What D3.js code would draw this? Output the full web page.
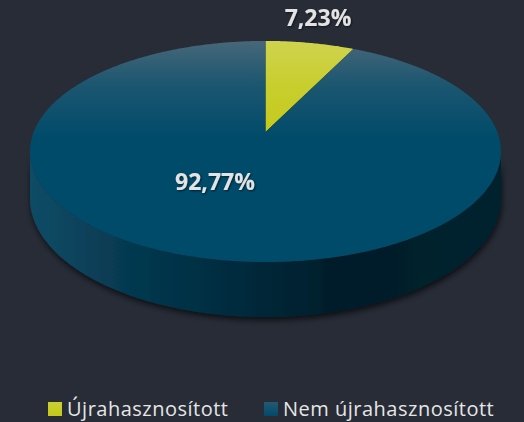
<!DOCTYPE html>
<html>
<head>
<meta charset="utf-8">
<script src="https://cdn.jsdelivr.net/npm/d3@7"></script>
<style>
  html, body { margin: 0; padding: 0; background: #272c37; }
  svg { display: block; }
</style>
</head>
<body>
<svg id="chart" width="524" height="422"></svg>
<script>
// data
var categories = ["Újrahasznosított", "Nem újrahasznosított"];
var values = [7.23, 92.77];
var labels = ["7,23%", "92,77%"];
var colors = ["#c4ca18", "#004b6a"];
var topColors = ["#cfd34e", "#476779"];

var svg = d3.select("#chart");

// perspective disc: unit circle (u, v) -> screen, h = 0 top, 1 bottom
var cx = 265.5, cy = 132, A = 231.8, B = 107.1, k = -0.176, D = 45.4;
function proj(u, v, h) {
  var w = 1 + k * v;
  return [cx + A * u / w, cy + (B * v + D * h) / w];
}
function at(a, h) { return proj(Math.sin(a), -Math.cos(a), h); }

var pie = d3.pie().sort(null).value(function (d) { return d; });
var arcs = pie(values);

var defs = svg.append("defs");

// top gradients
arcs.forEach(function (d, i) {
  var g = defs.append("linearGradient").attr("id", "top" + i)
    .attr("gradientUnits", "userSpaceOnUse")
    .attr("x1", 0).attr("x2", 0).attr("y1", 41).attr("y2", 138);
  g.append("stop").attr("offset", 0).attr("stop-color", topColors[i]);
  g.append("stop").attr("offset", 0.45).attr("stop-color", d3.interpolateRgb(topColors[i], colors[i])(0.6));
  g.append("stop").attr("offset", 1).attr("stop-color", colors[i]);

  var lgd = defs.append("linearGradient").attr("id", "leg" + i)
    .attr("x1", 0).attr("x2", 0).attr("y1", 0).attr("y2", 1);
  lgd.append("stop").attr("offset", 0).attr("stop-color", d3.interpolateRgb(topColors[i], colors[i])(0.5));
  lgd.append("stop").attr("offset", 1).attr("stop-color", colors[i]);
});

var side = defs.append("linearGradient").attr("id", "side")
  .attr("gradientUnits", "userSpaceOnUse")
  .attr("x1", 30).attr("x2", 501).attr("y1", 0).attr("y2", 0);
[[0, "#0d4c66"], [0.2, "#063a51"], [0.45, "#022a3c"],
 [0.66, "#011d29"], [1, "#02232f"]].forEach(function (s) {
  side.append("stop").attr("offset", s[0]).attr("stop-color", s[1]);
});

var f = defs.append("filter").attr("id", "shadow")
  .attr("x", "-10%").attr("y", "-10%").attr("width", "120%").attr("height", "130%");
f.append("feDropShadow").attr("dx", 1).attr("dy", 3).attr("stdDeviation", 3)
  .attr("flood-color", "#000").attr("flood-opacity", 0.7);

var tf = defs.append("filter").attr("id", "tshadow")
  .attr("x", "-20%").attr("y", "-30%").attr("width", "140%").attr("height", "160%");
tf.append("feDropShadow").attr("dx", 1).attr("dy", 1).attr("stdDeviation", 1)
  .attr("flood-color", "#000").attr("flood-opacity", 0.6);

var line = d3.line();
var step = Math.PI / 360;

// side wall (front half, between silhouette extremes)
var aR = Math.acos(k), aL = 2 * Math.PI - Math.acos(k);
var sidePts = [];
for (var a = aR; a <= aL; a += step) sidePts.push(at(a, 0));
sidePts.push(at(aL, 0));
for (var a2 = aL; a2 >= aR; a2 -= step) sidePts.push(at(a2, 1));
sidePts.push(at(aR, 1));
svg.append("path")
  .attr("d", line(sidePts) + "Z")
  .attr("fill", "url(#side)")
  .attr("filter", "url(#shadow)");

// top slices
svg.selectAll("path.slice")
  .data(arcs)
  .enter()
  .append("path")
    .attr("class", "slice")
    .attr("d", function (d) {
      var pts = [proj(0, 0, 0)];
      for (var a = d.startAngle; a < d.endAngle; a += step) pts.push(at(a, 0));
      pts.push(at(d.endAngle, 0));
      return line(pts) + "Z";
    })
    .attr("fill", function (d, i) { return "url(#top" + i + ")"; });

// data labels
var labelPos = [[318, 26], [215, 190]];
svg.selectAll("text.lbl")
  .data(arcs)
  .enter()
  .append("text")
    .attr("class", "lbl")
    .attr("x", function (d, i) { return labelPos[i][0]; })
    .attr("y", function (d, i) { return labelPos[i][1]; })
    .attr("text-anchor", "middle")
    .attr("font-family", "'Open Sans', sans-serif")
    .attr("font-weight", "bold")
    .attr("font-size", 23)
    .attr("fill", "#e3e3e3")
    .attr("filter", "url(#tshadow)")
    .text(function (d, i) { return labels[i]; });

// legend
var legX = [48, 264];
var lg = svg.selectAll("g.leg")
  .data(categories)
  .enter()
  .append("g")
    .attr("class", "leg")
    .attr("transform", function (d, i) { return "translate(" + legX[i] + ",402)"; });
lg.append("rect")
  .attr("width", 14).attr("height", 14)
  .attr("fill", function (d, i) { return "url(#leg" + i + ")"; });
lg.append("text")
  .attr("x", 19).attr("y", 13.5)
  .attr("font-family", "'Open Sans', sans-serif")
  .attr("font-size", 20)
  .attr("letter-spacing", 0.5)
  .attr("fill", "#e6e6e6")
  .text(function (d) { return d; });
</script>
</body>
</html>
